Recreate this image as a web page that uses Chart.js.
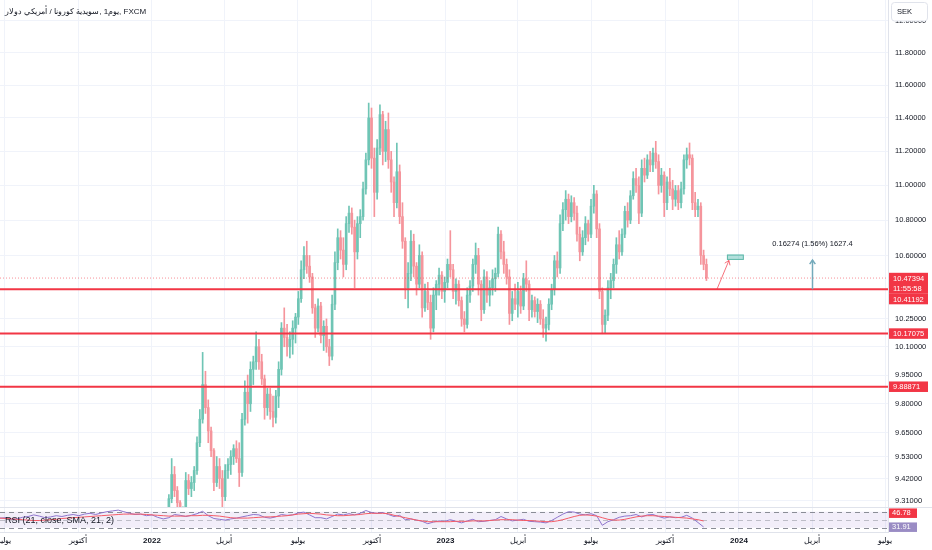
<!DOCTYPE html>
<html>
<head>
<meta charset="utf-8">
<title>USD/SEK 1D</title>
<script src="https://cdn.jsdelivr.net/npm/chart.js@4.4.1/dist/chart.umd.min.js"></script>
<style>
  html, body { margin:0; padding:0; background:#ffffff; overflow:hidden; }
  #wrap { position:relative; width:932px; height:550px; }
  canvas { position:absolute; left:0; display:block; }
  #main { top:0; }
  #rsi { top:507px; }
  #title { position:absolute; left:5px; top:6px; font-family:"Liberation Sans", Arial, sans-serif; font-size:8px; line-height:12px; color:#131722; direction:ltr; white-space:nowrap; }
  #title span { display:inline-block; }
</style>
</head>
<body>
<div id="wrap">
  <canvas id="main" width="932" height="507"></canvas>
  <canvas id="rsi" width="932" height="43"></canvas>
  <div id="title"><span>دولار</span> <span>أمريكي</span> <span>/</span> <span>كورونا</span> <span>سويدية,</span> <span>1يوم,</span> <span>FXCM</span></div>
</div>
<script>
const FONT = '"Liberation Sans", Arial, sans-serif';
Chart.defaults.font.family = FONT;
Chart.defaults.color = '#131722';

// ---- candles: one candle every 3.5 days, days counted from 2022-01-01 ----
const candleStartDay = 17.5;
const candleStepDays = 3.5;
const opens = [
  9.20,9.25,9.32,9.44,9.36,9.30,9.20,9.25,9.41,9.37,
  9.40,9.46,9.60,9.72,9.90,9.78,9.66,9.56,9.40,9.48,
  9.42,9.33,9.46,9.49,9.53,9.57,9.52,9.45,9.72,9.86,
  9.80,9.98,10.02,10.10,10.02,9.93,9.78,9.85,9.76,9.73,
  9.84,9.98,10.20,10.15,10.10,10.14,10.20,10.26,10.36,10.52,
  10.60,10.54,10.48,10.31,10.20,10.32,10.16,10.21,10.10,10.05,
  10.33,10.56,10.70,10.63,10.55,10.78,10.84,10.76,10.62,10.78,
  10.82,10.98,11.15,11.40,11.16,10.96,11.22,11.42,11.20,11.33,
  11.15,11.02,10.90,11.08,10.82,10.68,10.42,10.50,10.68,10.54,
  10.44,10.60,10.31,10.40,10.34,10.20,10.38,10.44,10.49,10.40,
  10.45,10.55,10.52,10.40,10.44,10.35,10.25,10.22,10.38,10.43,
  10.55,10.60,10.44,10.30,10.48,10.38,10.42,10.47,10.50,10.72,
  10.62,10.55,10.48,10.28,10.36,10.33,10.40,10.32,10.47,10.44,
  10.30,10.35,10.29,10.33,10.25,10.20,10.22,10.33,10.41,10.57,
  10.53,10.78,10.86,10.92,10.82,10.90,10.84,10.72,10.62,10.70,
  10.78,10.72,10.88,10.95,10.75,10.40,10.22,10.27,10.42,10.46,
  10.55,10.66,10.62,10.72,10.85,10.80,10.94,11.04,11.00,10.84,
  11.10,11.06,11.15,11.12,11.19,11.14,11.00,11.06,10.90,11.02,
  10.98,10.92,10.97,10.90,10.98,11.15,11.18,11.16,10.90,10.86,
  10.88,10.60,10.55
];
const highs = [
  9.27,9.34,9.52,9.48,9.38,9.31,9.28,9.45,9.44,9.43,
  9.48,9.63,9.77,10.07,9.97,9.82,9.68,9.57,9.53,9.52,
  9.46,9.49,9.52,9.56,9.59,9.61,9.60,9.75,9.92,9.95,
  10.02,10.05,10.18,10.14,10.06,9.95,9.88,9.88,9.84,9.87,
  10.02,10.23,10.31,10.22,10.18,10.24,10.28,10.40,10.57,10.65,
  10.68,10.60,10.50,10.33,10.36,10.34,10.24,10.25,10.14,10.38,
  10.62,10.75,10.74,10.70,10.82,10.88,10.87,10.80,10.82,10.86,
  11.02,11.19,11.49,11.46,11.22,11.27,11.48,11.44,11.38,11.43,
  11.20,11.05,11.25,11.12,10.90,10.70,10.56,10.74,10.72,10.56,
  10.66,10.62,10.44,10.45,10.38,10.42,10.46,10.53,10.51,10.48,
  10.58,10.74,10.55,10.47,10.46,10.37,10.29,10.42,10.46,10.58,
  10.67,10.64,10.46,10.52,10.51,10.46,10.52,10.53,10.76,10.74,
  10.68,10.58,10.52,10.40,10.44,10.45,10.43,10.50,10.57,10.46,
  10.38,10.37,10.36,10.35,10.30,10.26,10.36,10.44,10.60,10.62,
  10.83,10.90,10.97,10.95,10.94,10.93,10.88,10.76,10.74,10.82,
  10.80,10.92,11.00,10.97,10.78,10.42,10.30,10.46,10.50,10.58,
  10.70,10.74,10.75,10.88,10.90,10.97,11.08,11.10,11.05,11.15,
  11.16,11.18,11.20,11.22,11.26,11.18,11.10,11.08,11.05,11.10,
  11.03,11.00,11.00,11.02,11.18,11.22,11.25,11.18,10.96,10.92,
  10.90,10.63,10.58
];
const lows = [
  9.17,9.22,9.30,9.33,9.27,9.16,9.14,9.24,9.34,9.33,
  9.36,9.44,9.58,9.70,9.75,9.60,9.53,9.36,9.38,9.37,
  9.28,9.31,9.42,9.44,9.49,9.50,9.38,9.43,9.69,9.70,
  9.76,9.90,9.98,9.98,9.90,9.72,9.74,9.72,9.68,9.70,
  9.78,9.95,10.10,10.05,10.04,10.06,10.12,10.22,10.34,10.47,
  10.50,10.45,10.28,10.15,10.18,10.12,10.08,10.07,10.00,10.03,
  10.30,10.52,10.58,10.48,10.52,10.73,10.72,10.42,10.58,10.70,
  10.80,10.95,11.12,11.10,10.82,10.92,11.18,11.12,11.14,11.10,
  10.96,10.82,10.87,10.78,10.64,10.36,10.31,10.46,10.48,10.38,
  10.42,10.26,10.29,10.30,10.14,10.18,10.30,10.38,10.36,10.34,
  10.42,10.48,10.36,10.33,10.32,10.21,10.18,10.20,10.34,10.40,
  10.50,10.38,10.24,10.28,10.34,10.32,10.38,10.40,10.48,10.58,
  10.50,10.44,10.22,10.24,10.30,10.26,10.28,10.30,10.40,10.24,
  10.26,10.26,10.23,10.22,10.15,10.13,10.19,10.30,10.38,10.48,
  10.50,10.74,10.80,10.78,10.79,10.80,10.68,10.57,10.60,10.66,
  10.68,10.70,10.84,10.70,10.36,10.17,10.17,10.24,10.36,10.42,
  10.50,10.58,10.60,10.70,10.76,10.78,10.92,10.96,10.78,10.82,
  11.02,11.04,11.08,11.08,11.10,10.95,10.96,10.82,10.86,10.94,
  10.86,10.88,10.86,10.87,10.95,11.10,11.12,10.86,10.82,10.82,
  10.55,10.52,10.46
];
const closes = [
  9.24,9.32,9.44,9.36,9.30,9.20,9.25,9.41,9.37,9.40,
  9.46,9.60,9.72,9.90,9.78,9.66,9.56,9.40,9.48,9.42,
  9.33,9.46,9.49,9.53,9.57,9.52,9.45,9.72,9.86,9.80,
  9.98,10.02,10.10,10.02,9.93,9.78,9.85,9.76,9.73,9.84,
  9.98,10.20,10.15,10.10,10.14,10.20,10.26,10.36,10.52,10.60,
  10.54,10.48,10.31,10.20,10.32,10.16,10.21,10.10,10.05,10.33,
  10.56,10.70,10.63,10.55,10.78,10.84,10.76,10.62,10.78,10.82,
  10.98,11.15,11.40,11.16,10.96,11.22,11.42,11.20,11.33,11.15,
  11.02,10.90,11.08,10.82,10.68,10.42,10.50,10.68,10.54,10.44,
  10.60,10.31,10.40,10.34,10.20,10.38,10.44,10.49,10.40,10.45,
  10.55,10.52,10.40,10.44,10.35,10.25,10.22,10.38,10.43,10.55,
  10.60,10.44,10.30,10.48,10.38,10.42,10.47,10.50,10.72,10.62,
  10.55,10.48,10.28,10.36,10.33,10.40,10.32,10.47,10.44,10.30,
  10.35,10.29,10.33,10.25,10.20,10.22,10.33,10.41,10.57,10.53,
  10.78,10.86,10.92,10.82,10.90,10.84,10.72,10.62,10.70,10.78,
  10.72,10.88,10.95,10.75,10.40,10.22,10.27,10.42,10.46,10.55,
  10.66,10.62,10.72,10.85,10.80,10.94,11.04,11.00,10.84,11.10,
  11.06,11.15,11.12,11.19,11.14,11.00,11.06,10.90,11.02,10.98,
  10.92,10.97,10.90,10.98,11.15,11.18,11.16,10.90,10.86,10.88,
  10.60,10.55,10.47394
];

// ---- RSI pane: one reading every 7 days ----
const rsiStartDay = -189;
const rsiStepDays = 7;
const rsiValues = [
  54,55,51,52,56,58,62,59,55,57,
  60,58,61,63,60,64,66,63,67,70,
  72,74,70,66,63,64,60,62,56,52,
  55,63,61,58,61,65,71,60,53,51,
  49,52,54,57,60,63,62,56,54,57,
  63,61,62,67,69,62,55,55,52,58,
  64,62,65,62,66,73,68,66,68,63,
  58,61,50,52,49,46,40,44,47,46,
  50,46,42,47,51,45,46,48,50,58,
  52,47,49,51,46,45,44,42,48,56,
  64,70,69,64,62,65,60,36,45,50,
  56,59,60,63,57,62,63,58,54,57,
  55,56,61,54,43,31.91
];
const rsiSmaValues = [
  54,53,52,51,50,49,48,48,49,50,
  51,53,54,55,56,57,58,59,60,61,
  62,63,64,64,64,64,63,62,61,60,
  59,59,59,59,60,60,61,61,60,59,
  57,55,54,54,54,55,56,57,57,58,
  59,60,62,64,65,66,65,64,62,61,
  60,60,61,62,63,65,66,66,66,65,
  61,58,55,52,49,47,45,45,45,45,
  45,46,46,46,47,47,47,48,49,50,
  50,50,49,48,48,47,46,45,45,47,
  50,54,58,61,62,61,59,55,51,49,
  49,51,54,57,59,60,60,59,58,57,
  56,55,54,52,50,46.78
];

// ---- axes ----
const priceTicks = [12.0, 11.8, 11.6, 11.4, 11.2, 11.0, 10.8, 10.6, 10.25, 10.10, 9.95, 9.80, 9.65, 9.53, 9.42, 9.31];
const timeTickDays = [-184, -92, 0, 90, 181, 273, 365, 455, 546, 638, 730, 821, 912];
const timeTickLabels = ['يوليو','أكتوبر','2022','أبريل','يوليو','أكتوبر','2023','أبريل','يوليو','أكتوبر','2024','أبريل','يوليو'];
const viewStartDay = -189, viewEndDay = 915.3;
const priceMin = 9.279, priceMax = 12.134;
const rsiMin = 19.25, rsiMax = 81.75;
const rsiBands = [70, 50, 30];

// ---- levels and drawings ----
const levelPrices = [10.41192, 10.17075, 9.88871];
const lastPrice = 10.47394;
const countdownText = '11:55:58';
const projBoxDays = [715, 736];
const projBoxPrices = [10.575, 10.605];
const projArrowDays = [702.6, 717.5];
const projArrowPrices = [10.412, 10.572];
const measureDay = 820.8;
const measurePrices = [10.41192, 10.57466];
const measureText = '0.16274 (1.56%) 1627.4';
const currencyText = 'SEK';
const rsiLegend = 'RSI (21, close, SMA, 21, 2)';

// ---- build datasets ----
const UP = '#6fc5b5', DOWN = '#f5959c';
const candleDays = closes.map((_, i) => candleStartDay + i * candleStepDays);
const candleColors = closes.map((c, i) => c >= opens[i] ? UP : DOWN);
const wickData = closes.map((c, i) => ({ x: candleDays[i], y: [lows[i], highs[i]] }));
const bodyData = closes.map((c, i) => {
  const lo = Math.min(opens[i], c), hi = Math.max(opens[i], c);
  return { x: candleDays[i], y: [lo, hi - lo < 0.004 ? lo + 0.004 : hi] };
});
const levelDatasets = levelPrices.map(p => ({
  type: 'line', data: [{ x: viewStartDay, y: p }, { x: viewEndDay, y: p }],
  borderColor: '#f23645', borderWidth: 2, pointRadius: 0, order: 0, clip: 0
}));

function drawArrow(ctx, x0, y0, x1, y1, color, width, head) {
  ctx.strokeStyle = color; ctx.lineWidth = width; ctx.setLineDash([]);
  ctx.beginPath(); ctx.moveTo(x0, y0); ctx.lineTo(x1, y1); ctx.stroke();
  const a = Math.atan2(y1 - y0, x1 - x0);
  ctx.beginPath();
  ctx.moveTo(x1 - head * Math.cos(a - 0.6), y1 - head * Math.sin(a - 0.6));
  ctx.lineTo(x1, y1);
  ctx.lineTo(x1 - head * Math.cos(a + 0.6), y1 - head * Math.sin(a + 0.6));
  ctx.stroke();
}

const mainOverlay = {
  id: 'mainOverlay',
  afterDraw(chart) {
    const { ctx, scales: { x, y } } = chart;
    ctx.save();
    // projection box
    const bx0 = x.getPixelForValue(projBoxDays[0]), bx1 = x.getPixelForValue(projBoxDays[1]);
    const by0 = y.getPixelForValue(projBoxPrices[1]), by1 = y.getPixelForValue(projBoxPrices[0]);
    ctx.fillStyle = 'rgba(38,166,154,0.35)';
    ctx.fillRect(bx0, by0, bx1 - bx0, by1 - by0);
    ctx.strokeStyle = '#5fb9a9'; ctx.lineWidth = 1;
    ctx.strokeRect(bx0 + 0.5, by0 + 0.5, bx1 - bx0 - 1, by1 - by0 - 1);
    // projection arrow
    drawArrow(ctx, x.getPixelForValue(projArrowDays[0]), y.getPixelForValue(projArrowPrices[0]),
      x.getPixelForValue(projArrowDays[1]), y.getPixelForValue(projArrowPrices[1]), 'rgba(242,54,69,0.7)', 1, 5);
    // measure arrow
    const mx = Math.round(x.getPixelForValue(measureDay)) + 0.5;
    const my0 = y.getPixelForValue(measurePrices[0]), my1 = y.getPixelForValue(measurePrices[1]);
    drawArrow(ctx, mx, my0, mx, my1, '#74aabb', 1.5, 5);
    ctx.font = '7.5px ' + FONT; ctx.fillStyle = '#131722';
    ctx.textAlign = 'center'; ctx.textBaseline = 'middle';
    ctx.fillText(measureText, mx, my1 - 16);
    // price labels on the axis
    const LH = 10.5;
    const items = [{ v: lastPrice, lines: [lastPrice.toFixed(5), countdownText] }]
      .concat(levelPrices.map(p => ({ v: p, lines: [p.toFixed(5)] })));
    items.forEach(it => { it.py = y.getPixelForValue(it.v); });
    items.sort((a, b) => a.py - b.py);
    let prevBottom = -1e9;
    ctx.textAlign = 'left';
    items.forEach(it => {
      let top = it.py - LH / 2;
      if (top < prevBottom) top = prevBottom;
      const h = LH * it.lines.length;
      ctx.fillStyle = '#f23645';
      ctx.fillRect(889, top, 39, h);
      ctx.fillStyle = '#ffffff';
      it.lines.forEach((t, k) => ctx.fillText(t, 893, top + LH * k + LH / 2 + 0.5));
      prevBottom = top + h;
    });
    // currency box
    ctx.fillStyle = '#ffffff'; ctx.strokeStyle = '#e0e3eb'; ctx.lineWidth = 1;
    ctx.beginPath();
    if (ctx.roundRect) ctx.roundRect(891.5, 2.5, 36, 18.5, 3); else ctx.rect(891.5, 2.5, 36, 18.5);
    ctx.fill(); ctx.stroke();
    ctx.fillStyle = '#131722'; ctx.textAlign = 'left';
    ctx.fillText(currencyText, 897, 12);
    ctx.restore();
  }
};

new Chart(document.getElementById('main'), {
  type: 'bar',
  data: {
    datasets: [
      ...levelDatasets,
      { type: 'line', data: [{ x: viewStartDay, y: lastPrice }, { x: viewEndDay, y: lastPrice }],
        borderColor: 'rgba(242,54,69,0.55)', borderWidth: 1, borderDash: [1, 2], pointRadius: 0, order: 1, clip: 0 },
      { type: 'bar', data: bodyData, backgroundColor: candleColors, barThickness: 2, grouped: false, borderWidth: 0, order: 2 },
      { type: 'bar', data: wickData, backgroundColor: candleColors, barThickness: 1, grouped: false, borderWidth: 0, order: 3 }
    ]
  },
  options: {
    responsive: false, animation: false, events: [],
    layout: { padding: 0 },
    plugins: { legend: { display: false }, tooltip: { enabled: false } },
    scales: {
      x: {
        type: 'linear', min: viewStartDay, max: viewEndDay, offset: false, bounds: 'data',
        afterBuildTicks: s => { s.ticks = timeTickDays.map(v => ({ value: v })); },
        afterFit: s => { s.height = 0; s.paddingLeft = 0; s.paddingRight = 0; },
        ticks: { display: false },
        grid: { color: '#f0f3fa', drawTicks: false, offset: false },
        border: { display: false }
      },
      y: {
        type: 'logarithmic', position: 'right', min: priceMin, max: priceMax, bounds: 'data', beginAtZero: false,
        afterBuildTicks: s => { s.ticks = priceTicks.map(v => ({ value: v })); },
        afterFit: s => { s.width = 44; s.paddingTop = 0; s.paddingBottom = 0; },
        ticks: { autoSkip: false, padding: 7, crossAlign: 'near', color: '#131722',
          font: { size: 7.5, family: FONT }, callback: v => Number(v).toFixed(5) },
        grid: { color: '#f0f3fa', drawTicks: false },
        border: { display: true, color: '#e0e3eb' }
      }
    }
  },
  plugins: [mainOverlay]
});

// ---- RSI chart ----
const rsiPoints = rsiValues.map((v, i) => ({ x: rsiStartDay + i * rsiStepDays, y: v }));
const smaPoints = rsiSmaValues.map((v, i) => ({ x: rsiStartDay + i * rsiStepDays, y: v }));

const rsiOverlay = {
  id: 'rsiOverlay',
  beforeDatasetsDraw(chart) {
    const { ctx, chartArea: a, scales: { y } } = chart;
    const y70 = y.getPixelForValue(rsiBands[0]), y50 = y.getPixelForValue(rsiBands[1]), y30 = y.getPixelForValue(rsiBands[2]);
    ctx.save();
    ctx.fillStyle = 'rgba(126,87,194,0.1)';
    ctx.fillRect(a.left, y70, a.right - a.left, y30 - y70);
    ctx.lineWidth = 1; ctx.setLineDash([5, 4]);
    ctx.strokeStyle = '#8a8d96';
    [y70, y30].forEach(v => { ctx.beginPath(); ctx.moveTo(a.left, Math.round(v) + 0.5); ctx.lineTo(a.right, Math.round(v) + 0.5); ctx.stroke(); });
    ctx.strokeStyle = 'rgba(138,141,150,0.5)';
    ctx.beginPath(); ctx.moveTo(a.left, Math.round(y50) + 0.5); ctx.lineTo(a.right, Math.round(y50) + 0.5); ctx.stroke();
    ctx.restore();
  },
  afterDraw(chart) {
    const { ctx, scales: { y } } = chart;
    ctx.save();
    ctx.strokeStyle = '#e0e3eb'; ctx.lineWidth = 1;
    ctx.beginPath(); ctx.moveTo(0, 0.5); ctx.lineTo(932, 0.5); ctx.stroke();
    ctx.font = '9px ' + FONT; ctx.fillStyle = '#131722';
    ctx.textAlign = 'left'; ctx.textBaseline = 'middle';
    ctx.fillText(rsiLegend, 5, y.getPixelForValue(rsiBands[1]) + 0.5);
    const lastR = rsiValues[rsiValues.length - 1], lastS = rsiSmaValues[rsiSmaValues.length - 1];
    const yr = y.getPixelForValue(lastR);
    const ys = Math.min(y.getPixelForValue(lastS), yr - 14);
    ctx.font = '7.5px ' + FONT;
    ctx.fillStyle = '#f23645'; ctx.fillRect(889, ys - 4.5, 28, 9.5);
    ctx.fillStyle = '#9a8cc4'; ctx.fillRect(889, yr - 4.5, 28, 9.5);
    ctx.fillStyle = '#ffffff';
    ctx.fillText(lastS.toFixed(2), 892, ys + 0.5);
    ctx.fillText(lastR.toFixed(2), 892, yr + 0.5);
    ctx.restore();
  }
};

new Chart(document.getElementById('rsi'), {
  type: 'line',
  data: {
    datasets: [
      { data: smaPoints, borderColor: '#f45b67', borderWidth: 1, pointRadius: 0, tension: 0, order: 0 },
      { data: rsiPoints, borderColor: '#8e74cc', borderWidth: 1, pointRadius: 0, tension: 0, order: 1 }
    ]
  },
  options: {
    responsive: false, animation: false, events: [],
    layout: { padding: 0 },
    plugins: { legend: { display: false }, tooltip: { enabled: false } },
    scales: {
      x: {
        type: 'linear', min: viewStartDay, max: viewEndDay, offset: false, bounds: 'data',
        afterBuildTicks: s => { s.ticks = timeTickDays.map(v => ({ value: v })); },
        afterFit: s => { s.height = 18; s.paddingLeft = 0; s.paddingRight = 0; },
        ticks: {
          autoSkip: false, maxRotation: 0, minRotation: 0, padding: 4, color: '#131722',
          callback: (v, i) => timeTickLabels[i],
          font: c => ({ family: FONT, size: 8, weight: /^\d{4}$/.test(timeTickLabels[c.index] || '') ? 'bold' : 'normal' })
        },
        grid: { color: '#f0f3fa', drawTicks: false, offset: false },
        border: { display: true, color: '#e0e3eb' }
      },
      y: {
        type: 'linear', position: 'right', min: rsiMin, max: rsiMax, bounds: 'data',
        afterBuildTicks: s => { s.ticks = []; },
        afterFit: s => { s.width = 44; s.paddingTop = 0; s.paddingBottom = 0; },
        ticks: { display: false },
        grid: { display: false },
        border: { display: true, color: '#e0e3eb' }
      }
    }
  },
  plugins: [rsiOverlay]
});
</script>
</body>
</html>
